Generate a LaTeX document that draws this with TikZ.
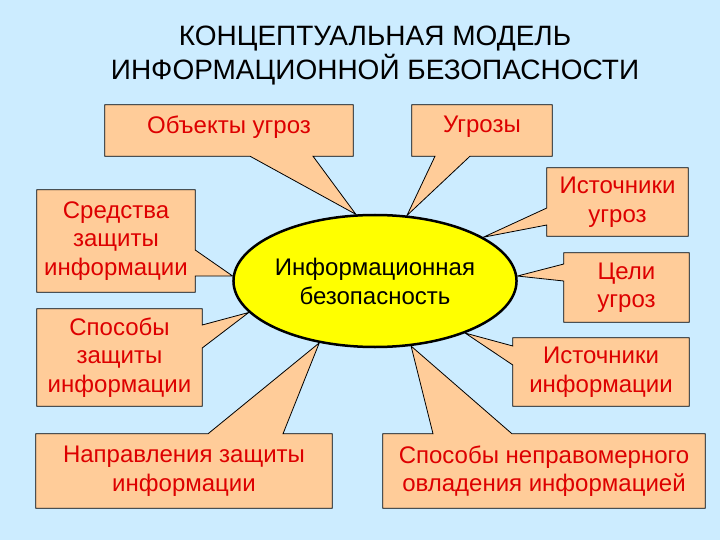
\documentclass[tikz,border=0pt]{standalone}
\usepackage{fontspec}
\setmainfont{Liberation Sans}
\usetikzlibrary{positioning, calc, shapes.geometric, backgrounds}
\definecolor{Sky}{HTML}{CCECFF}
\definecolor{Peach}{HTML}{FFCC99}
\definecolor{Label}{HTML}{DD0000}
\definecolor{Sun}{HTML}{FFFF00}
\tikzset{
    boxtext/.style={rectangle, inner sep=0pt, text=Label, align=center, font=\fontsize{24}{28.5}\selectfont},
    callout/.style={fill=Peach, draw=black, line width=0.8pt, line join=miter},
    core/.style={ellipse, draw=black, line width=2.5pt, fill=Sun, inner sep=0pt, minimum width=224pt, minimum height=132pt, align=center, font=\fontsize{24}{29}\selectfont},
    headline/.style={align=center, font=\fontsize{28}{34}\selectfont},
}

\begin{document}
\begin{tikzpicture}[x=1pt, y=-1pt] % coordinate in pixel della slide
                \useasboundingbox (0,0) rectangle (720,540);

                % Titolo
                \node[headline] (title) at (375,56) {КОНЦЕПТУАЛЬНАЯ МОДЕЛЬ\\ИНФОРМАЦИОННОЙ БЕЗОПАСНОСТИ};

                % Ellisse centrale
                \node[core] (ell) at (375,281) {Информационная\\безопасность};

                % Testi dei riquadri
                \node[boxtext, minimum width=248pt, minimum height=51pt, text depth=12pt] (obj) at (229,130.5) {Объекты угроз};
                \node[boxtext, minimum width=140pt, minimum height=51pt, text depth=12pt] (ugr) at (482,130.5) {Угрозы};
                \node[boxtext, minimum width=158pt, minimum height=102pt] (sred) at (116,241) {Средства\\защиты\\информации};
                \node[boxtext, minimum width=165pt, minimum height=97pt] (spos) at (119.5,357.5) {Способы\\защиты\\информации};
                \node[boxtext, minimum width=141pt, minimum height=68pt] (istugr) at (617.5,202) {Источники\\угроз};
                \node[boxtext, minimum width=125pt, minimum height=69pt] (celi) at (626.5,287.5) {Цели\\угроз};
                \node[boxtext, minimum width=176pt, minimum height=68pt] (istinf) at (601,372) {Источники\\информации};
                \node[boxtext, minimum width=296pt, minimum height=74pt] (napr) at (184,471) {Направления защиты\\информации};
                \node[boxtext, minimum width=322pt, minimum height=74pt] (nepr) at (544,471) {Способы неправомерного\\овладения информацией};

                % Sfondo e riquadri con punta verso l'ellisse
                \begin{scope}[on background layer]
                    \fill[Sky] (0,0) rectangle (720,540);
                    \draw[callout] (obj.north west) -- (obj.north east) -- (obj.south east) -- (313,0 |- obj.south) -- (ell.106) -- (250,0 |- obj.south) -- (obj.south west) -- cycle;
                    \draw[callout] (ugr.north west) -- (ugr.north east) -- (ugr.south east) -- (470,0 |- ugr.south) -- (ell.64) -- (435,0 |- ugr.south) -- (ugr.south west) -- cycle;
                    \draw[callout] (sred.north west) -- (sred.north east) -- (sred.east |- 0,250) -- (ell.178) -- (sred.east |- 0,276) -- (sred.south east) -- (sred.south west) -- cycle;
                    \draw[callout] (spos.north west) -- (spos.north east) -- (spos.east |- 0,325) -- (ell.194) -- (spos.east |- 0,348) -- (spos.south east) -- (spos.south west) -- cycle;
                    \draw[callout] (istugr.north west) -- (istugr.north east) -- (istugr.south east) -- (istugr.south west) -- (istugr.west |- 0,225) -- (ell.22) -- (istugr.west |- 0,208) -- cycle;
                    \draw[callout] (celi.north west) -- (celi.north east) -- (celi.south east) -- (celi.south west) -- (celi.west |- 0,281) -- (ell.2) -- (celi.west |- 0,264) -- cycle;
                    \draw[callout] (istinf.north west) -- (istinf.north east) -- (istinf.south east) -- (istinf.south west) -- (istinf.west |- 0,365) -- (ell.330) -- (istinf.west |- 0,346) -- cycle;
                    \draw[callout] (napr.north west) -- (208,0 |- napr.north) -- (ell.228) -- (283,0 |- napr.north) -- (napr.north east) -- (napr.south east) -- (napr.south west) -- cycle;
                    \draw[callout] (nepr.north west) -- (433,0 |- nepr.north) -- (ell.299) -- (512,0 |- nepr.north) -- (nepr.north east) -- (nepr.south east) -- (nepr.south west) -- cycle;
                \end{scope}

            \end{tikzpicture}
\end{document}
